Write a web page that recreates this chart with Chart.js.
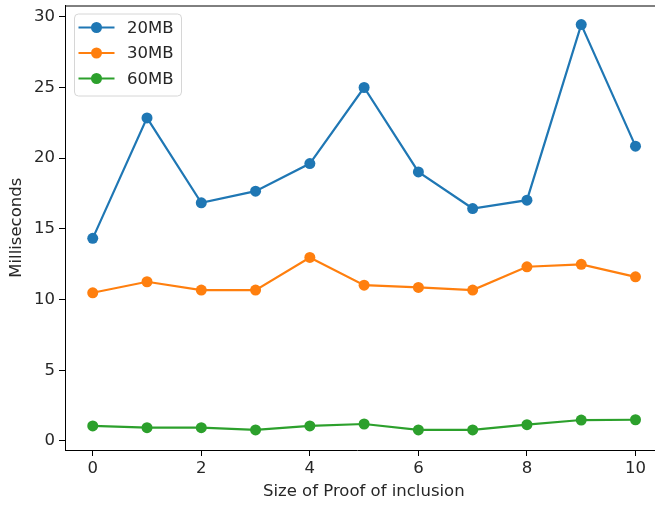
<!DOCTYPE html>
<html>
<head>
<meta charset="utf-8">
<script src="https://cdn.jsdelivr.net/npm/chart.js@4.4.1/dist/chart.umd.min.js"></script>
<style>
  html, body { margin: 0; padding: 0; background: #fff; }
  canvas { display: block; }
</style>
</head>
<body>
<canvas id="c" width="655" height="506"></canvas>
<script>
// Proof-of-inclusion sizes on the x axis
const proofSizes = [0, 1, 2, 3, 4, 5, 6, 7, 8, 9, 10];
// Timings in milliseconds per database size
const ms20MB = [14.33, 22.85, 16.84, 17.67, 19.62, 25.0, 19.03, 16.44, 17.03, 29.45, 20.85];
const ms30MB = [10.48, 11.26, 10.67, 10.67, 12.98, 11.02, 10.86, 10.67, 12.32, 12.49, 11.61];
const ms60MB = [1.06, 0.94, 0.94, 0.78, 1.06, 1.20, 0.78, 0.78, 1.15, 1.48, 1.50];
const seriesNames = ['20MB', '30MB', '60MB'];
const xTicks = [0, 2, 4, 6, 8, 10];
const yTicks = [0, 5, 10, 15, 20, 25, 30];
const xTitle = 'Size of Proof of inclusion';
const yTitle = 'Milliseconds';

const colors = ['#1f77b4', '#ff7f0e', '#2ca02c'];
const FONT = 'DejaVu Sans, sans-serif';
const FONT_SIZE = 16.5;
const X_FULL_MAX = 10.5; // nominal right end of the x axis (beyond the canvas edge)

function toPoints(values) {
  return proofSizes.map((x, i) => ({ x, y: values[i] }));
}

const datasets = [ms20MB, ms30MB, ms60MB].map((vals, i) => ({
  label: seriesNames[i],
  data: toPoints(vals),
  borderColor: colors[i],
  backgroundColor: colors[i],
  borderWidth: 2.2,
  pointRadius: 5.5,
  pointHoverRadius: 5.5,
  pointBorderWidth: 0,
  tension: 0
}));

// Spines running to the canvas edge, x-axis title centred on the full axis, boxed legend
const framePlugin = {
  id: 'frame',
  afterDraw(chart) {
    const { ctx, chartArea } = chart;
    const xs = chart.scales.x;
    ctx.save();
    ctx.strokeStyle = '#000';
    ctx.lineWidth = 1;
    ctx.beginPath();
    ctx.moveTo(chartArea.left, chartArea.top + 0.5);
    ctx.lineTo(chart.width, chartArea.top + 0.5);
    ctx.moveTo(chartArea.right - 1, chartArea.bottom + 0.5);
    ctx.lineTo(chart.width, chartArea.bottom + 0.5);
    ctx.stroke();

    // x-axis title
    ctx.font = FONT_SIZE + 'px ' + FONT;
    ctx.fillStyle = '#262626';
    ctx.textAlign = 'center';
    ctx.textBaseline = 'middle';
    const cx = (chartArea.left + xs.getPixelForValue(X_FULL_MAX)) / 2;
    ctx.fillText(xTitle, cx, 492);

    // legend box
    const bx = chartArea.left + 9.5, by = chartArea.top + 8.5, bw = 107, bh = 82, r = 4;
    ctx.beginPath();
    ctx.moveTo(bx + r, by);
    ctx.lineTo(bx + bw - r, by);
    ctx.quadraticCurveTo(bx + bw, by, bx + bw, by + r);
    ctx.lineTo(bx + bw, by + bh - r);
    ctx.quadraticCurveTo(bx + bw, by + bh, bx + bw - r, by + bh);
    ctx.lineTo(bx + r, by + bh);
    ctx.quadraticCurveTo(bx, by + bh, bx, by + bh - r);
    ctx.lineTo(bx, by + r);
    ctx.quadraticCurveTo(bx, by, bx + r, by);
    ctx.closePath();
    ctx.fillStyle = 'rgba(255,255,255,0.8)';
    ctx.fill();
    ctx.strokeStyle = '#d6d6d6';
    ctx.stroke();

    ctx.textAlign = 'left';
    chart.data.datasets.forEach((ds, i) => {
      const y = by + 13.5 + i * 25.5;
      ctx.strokeStyle = ds.borderColor;
      ctx.lineWidth = 2.2;
      ctx.beginPath();
      ctx.moveTo(bx + 4, y);
      ctx.lineTo(bx + 40, y);
      ctx.stroke();
      ctx.fillStyle = ds.borderColor;
      ctx.beginPath();
      ctx.arc(bx + 22, y, 5.5, 0, Math.PI * 2);
      ctx.fill();
      ctx.fillStyle = '#262626';
      ctx.fillText(ds.label, bx + 52.5, y + 1);
    });
    ctx.restore();
  }
};

new Chart(document.getElementById('c'), {
  type: 'line',
  data: { datasets },
  plugins: [framePlugin],
  options: {
    responsive: false,
    animation: false,
    events: [],
    layout: { padding: { top: 5, right: 0, bottom: 0, left: 0 } },
    plugins: { legend: { display: false }, tooltip: { enabled: false } },
    scales: {
      x: {
        type: 'linear',
        min: -0.511,
        max: 10.258,
        afterBuildTicks(scale) { scale.ticks = xTicks.map(v => ({ value: v })); },
        afterFit(scale) { scale.height = 56; },
        border: { display: true, color: '#000', width: 1 },
        grid: { display: true, drawOnChartArea: false, drawTicks: true, tickLength: 6, color: '#000' },
        ticks: { color: '#262626', font: { family: FONT, size: FONT_SIZE }, padding: 3, maxRotation: 0 },
        title: { display: false }
      },
      y: {
        type: 'linear',
        min: -0.64,
        max: 30.8,
        afterBuildTicks(scale) { scale.ticks = yTicks.map(v => ({ value: v })); },
        afterFit(scale) { scale.width = 65; scale.paddingTop = 0; scale.paddingBottom = 0; },
        border: { display: true, color: '#000', width: 1 },
        grid: { display: true, drawOnChartArea: false, drawTicks: true, tickLength: 6, color: '#000' },
        ticks: { color: '#262626', font: { family: FONT, size: FONT_SIZE }, padding: 4 },
        title: {
          display: true, text: yTitle, color: '#262626',
          font: { family: FONT, size: FONT_SIZE }, padding: { top: 7, bottom: 0 }
        }
      }
    }
  }
});
</script>
</body>
</html>
